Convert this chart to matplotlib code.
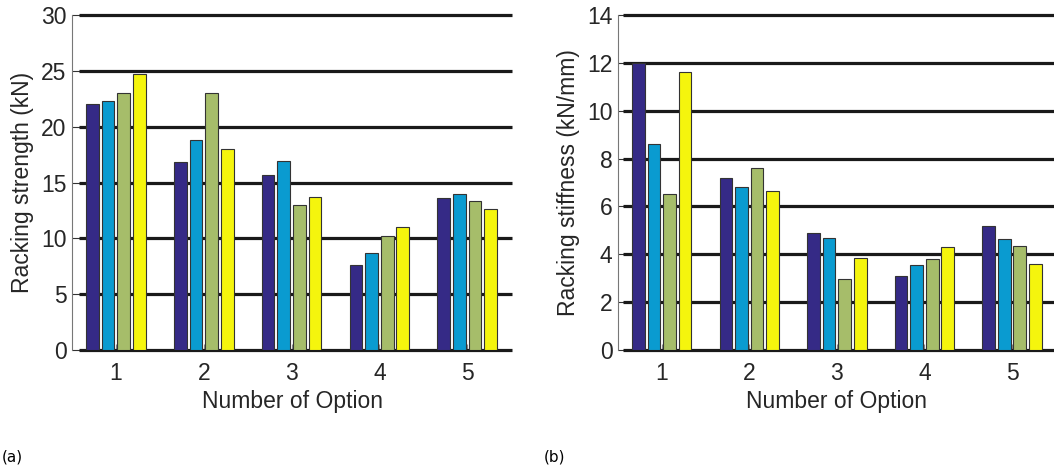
import matplotlib.pyplot as plt
import numpy as np

plt.rcParams['font.family'] = ['Liberation Sans', 'DejaVu Sans']

options = [1, 2, 3, 4, 5]
series_colors = ['#352a86', '#0a9bd0', '#a6bd6a', '#f5f50d']

# racking strength (kN), one list per series
strength_s1 = [22.0, 16.8, 15.7, 7.6, 13.6]
strength_s2 = [22.3, 18.8, 16.9, 8.7, 14.0]
strength_s3 = [23.0, 23.0, 13.0, 10.2, 13.3]
strength_s4 = [24.7, 18.0, 13.7, 11.0, 12.6]

# racking stiffness (kN/mm)
stiff_s1 = [12.0, 7.2, 4.9, 3.1, 5.2]
stiff_s2 = [8.6, 6.8, 4.7, 3.55, 4.65]
stiff_s3 = [6.5, 7.6, 2.95, 3.8, 4.35]
stiff_s4 = [11.6, 6.65, 3.85, 4.3, 3.6]

fig = plt.figure(figsize=(10.54, 4.74), dpi=100)
ax1 = fig.add_axes([72/1054, 1-350/474, 440/1054, 335/474])
ax2 = fig.add_axes([618/1054, 1-350/474, 436/1054, 335/474])


def draw(ax, series, ylim, yticks, ylabel, xmax, gstart):
    x = np.array(options, dtype=float)
    step = 0.178
    for i, vals in enumerate(series):
        ax.bar(x + (i - 1.5) * step, vals, width=0.145, color=series_colors[i],
               edgecolor='#333333', linewidth=0.8, zorder=3)
    for y in yticks:
        ax.plot([gstart, 1], [y, y], transform=ax.get_yaxis_transform(),
                color='#1a1a1a', lw=2.3, zorder=2, clip_on=False,
                solid_capstyle='butt')
    ax.set_xlim(0.5, xmax)
    ax.set_ylim(ylim)
    ax.set_yticks(yticks)
    ax.set_xticks(options)
    for s in ['top', 'right', 'bottom']:
        ax.spines[s].set_visible(False)
    ax.spines['left'].set_color('#777777')
    ax.spines['left'].set_linewidth(0.8)
    ax.tick_params(direction='in', length=6, width=0.8, color='#333333',
                   labelsize=16.5, labelcolor='#262626', pad=4)
    ax.tick_params(axis='x', length=4, color='#888888', pad=9)
    ax.set_xlabel('Number of Option', fontsize=16.5, color='#262626', labelpad=3)
    ax.set_ylabel(ylabel, fontsize=16.5, color='#262626', labelpad=5)


draw(ax1, [strength_s1, strength_s2, strength_s3, strength_s4],
     (0, 30), [0, 5, 10, 15, 20, 25, 30], 'Racking strength (kN)', 5.51, 0.016)
draw(ax2, [stiff_s1, stiff_s2, stiff_s3, stiff_s4],
     (0, 14), [0, 2, 4, 6, 8, 10, 12, 14], 'Racking stiffness (kN/mm)', 5.48, 0.012)

fig.text(2/1054, 1-457/474, '(a)', fontsize=11, family=['Liberation Sans Narrow', 'DejaVu Sans'],
         va='center')
fig.text(544/1054, 1-457/474, '(b)', fontsize=11, family=['Liberation Sans Narrow', 'DejaVu Sans'],
         va='center')

fig.savefig('out.png', dpi=100)
